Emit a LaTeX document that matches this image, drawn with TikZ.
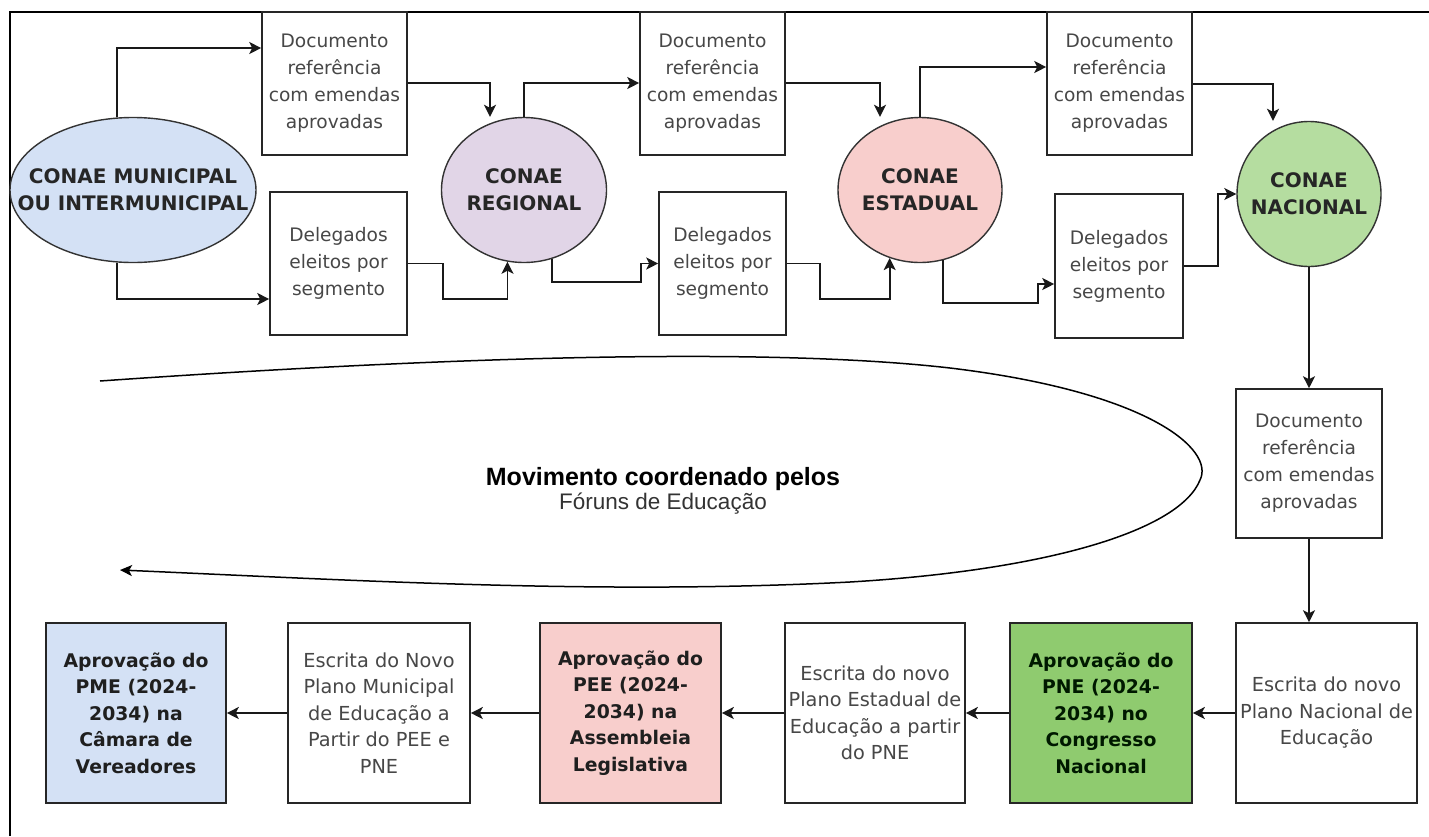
\documentclass[tikz,border=0pt]{standalone}
\usepackage{fontspec}
\setmainfont{DejaVu Sans}
\newfontfamily\arialf{Liberation Sans}
\usetikzlibrary{arrows.meta,shapes.geometric}
\definecolor{cblue}{HTML}{D4E1F5}
\definecolor{cpurple}{HTML}{E1D5E7}
\definecolor{cpink}{HTML}{F8CECC}
\definecolor{cgreenl}{HTML}{B5DDA0}
\definecolor{cgreen}{HTML}{8FCB6F}
\begin{document}
\begin{tikzpicture}[x=1pt,y=-1pt,
  box/.style={draw=black!85,line width=1.6pt,fill=white,inner sep=0pt,align=center,text=black!72,font=\fontsize{18.6}{27}\selectfont},
  lbox/.style={box,font=\fontsize{19.3}{26.5}\selectfont},
  bbox/.style={box,text=black!88,font=\fontsize{18.8}{26.5}\selectfont\bfseries},
  ell/.style={ellipse,draw=black!80,line width=1.4pt,inner sep=0pt},
  elltext/.style={align=center,inner sep=0pt,font=\fontsize{20}{27}\selectfont\bfseries,text=black!85},
  conn/.style={line width=1.7pt,draw=black!90,-{Stealth[length=12pt,width=12pt,inset=3pt]}},
]
\useasboundingbox (0,0) rectangle (1429,836);
\fill[white] (0,0) rectangle (1429,836);
% frame
\draw[line width=1.6pt] (10,836) -- (10,12) -- (1429,12);

% ellipses
\node[ell,fill=cblue,minimum width=246pt,minimum height=145pt] (e1) at (133,190) {};
\node[elltext] at (e1.center) {CONAE MUNICIPAL\\OU INTERMUNICIPAL};
\node[ell,fill=cpurple,minimum width=165pt,minimum height=145pt] (e2) at (524,190) {};
\node[elltext] at (e2.center) {CONAE\\REGIONAL};
\node[ell,fill=cpink,minimum width=164pt,minimum height=145pt] (e3) at (920,190) {};
\node[elltext] at (e3.center) {CONAE\\ESTADUAL};
\node[ell,fill=cgreenl,minimum width=144pt,minimum height=145pt] (e4) at (1309,194) {};
\node[elltext] at (e4.center) {CONAE\\NACIONAL};

% top boxes
\node[box,minimum width=145pt,minimum height=143pt] (d1) at (334.5,83.5) {Documento\\referência\\com emendas\\aprovadas};
\node[box,minimum width=145pt,minimum height=143pt] (d2) at (712.5,83.5) {Documento\\referência\\com emendas\\aprovadas};
\node[box,minimum width=145pt,minimum height=143pt] (d3) at (1119.5,83.5) {Documento\\referência\\com emendas\\aprovadas};
\node[box,minimum width=137pt,minimum height=143pt] (g1) at (338.5,263.5) {Delegados\\eleitos por\\segmento};
\node[box,minimum width=127pt,minimum height=143pt] (g2) at (722.5,263.5) {Delegados\\eleitos por\\segmento};
\node[box,minimum width=128pt,minimum height=144pt] (g3) at (1119,266) {Delegados\\eleitos por\\segmento};
\node[box,minimum width=146pt,minimum height=149pt] (d4) at (1309,463.5) {Documento\\referência\\com emendas\\aprovadas};

% bottom row
\node[lbox,minimum width=181pt,minimum height=180pt] (b1) at (1326.5,713) {Escrita do novo\\Plano Nacional de\\Educação};
\node[bbox,fill=cgreen,text=black!90!green,minimum width=182pt,minimum height=180pt] (b2) at (1101,713) {Aprovação do\\PNE (2024-\\2034) no\\Congresso\\Nacional};
\node[lbox,minimum width=180pt,minimum height=180pt] (b3) at (875,713) {Escrita do novo\\Plano Estadual de\\Educação a partir\\do PNE};
\node[bbox,fill=cpink,minimum width=181pt,minimum height=180pt] (b4) at (630.5,713) {Aprovação do\\PEE (2024-\\2034) na\\Assembleia\\Legislativa};
\node[lbox,minimum width=182pt,minimum height=180pt] (b5) at (379,713) {Escrita do Novo\\Plano Municipal\\de Educação a\\Partir do PEE e\\PNE};
\node[bbox,fill=cblue,minimum width=180pt,minimum height=180pt] (b6) at (136,713) {Aprovação do\\PME (2024-\\2034) na\\Câmara de\\Vereadores};

% connectors top
\draw[conn] (e1.north -| 117,0) |- (d1.west |- 0,48);
\draw[conn] (e1.south -| 117,0) |- (g1.west |- 0,299);
\draw[conn] (d1.east |- 0,83) -| (e2.north -| 490,0);
\draw[conn] (e2.north) |- (d2.west |- 0,83);
\draw[conn] (g1.east) -| (443,299) -| (e2.-103);
\draw[conn] (e2.-68) |- (641,282) |- (g2.west);
\draw[conn] (d2.east |- 0,83) -| (e3.north -| 880,0);
\draw[conn] (g2.east) -| (820,299) -| (e3.-114);
\draw[conn] (e3.north) |- (d3.west |- 0,67);
\draw[conn] (e3.-72) |- (1038,303) |- (g3.west |- 0,284);
\draw[conn] (d3.east |- 0,84) -| (e4.north -| 1273,0);
\draw[conn] (g3.east) -| (1218,194) -- (e4.west);
\draw[conn] (e4.south) -- (d4.north);
\draw[conn] (d4.south) -- (d4.south |- b1.north);

% bottom connectors
\draw[conn] (b1.west) -- (b2.east);
\draw[conn] (b2.west) -- (b3.east);
\draw[conn] (b3.west) -- (b4.east);
\draw[conn] (b4.west) -- (b5.east);
\draw[conn] (b5.west) -- (b6.east);

% loop arrow
\coordinate (ls) at (100,381);
\coordinate (le) at (120,570);
\draw[line width=1.5pt,-{Stealth[length=12pt,width=11pt,inset=3pt]}] (ls) .. controls (400,360) and (750,345) .. (950,368) .. controls (1150,392) and (1215,450) .. (1200,480) .. controls (1180,530) and (1050,570) .. (850,582) .. controls (600,595) and (350,580) .. (le);
\node[align=center,inner sep=0pt] (mov) at (663,491) {{\arialf\bfseries\fontsize{25}{27}\selectfont Movimento coordenado pelos}\\[1pt]{\arialf\fontsize{22.5}{24}\selectfont\color{black!80} Fóruns de Educação}};
\end{tikzpicture}
\end{document}
